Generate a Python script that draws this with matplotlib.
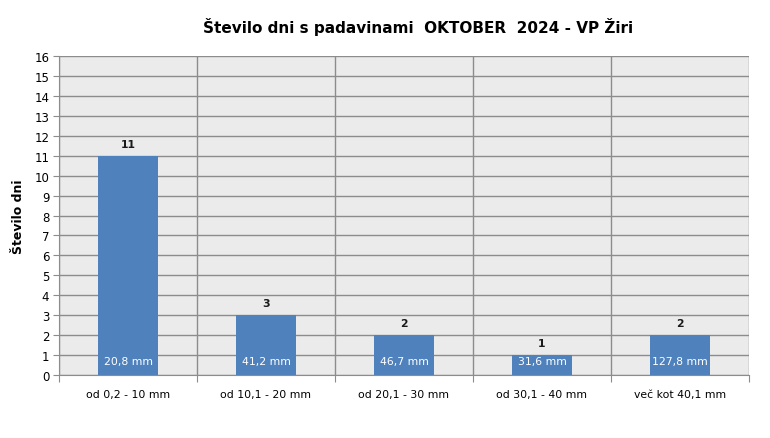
import matplotlib
matplotlib.use("Agg")
import matplotlib.pyplot as plt
import numpy as np

categories = ["od 0,2 - 10 mm", "od 10,1 - 20 mm", "od 20,1 - 30 mm", "od 30,1 - 40 mm", "več kot 40,1 mm"]
days = [11, 3, 2, 1, 2]
amounts = ["20,8 mm", "41,2 mm", "46,7 mm", "31,6 mm", "127,8 mm"]
yticks = list(range(0, 17))

plt.rcParams['font.family'] = ['DejaVu Sans']

fig = plt.figure(figsize=(7.7, 4.39), dpi=100)
ax = fig.add_axes([59/770, 1-376/439, 690/770, (376-57)/439])
ax.set_facecolor("#EBEBEB")

x = np.arange(len(categories))
ax.bar(x, days, width=0.43, color="#4F81BD", zorder=3)

ax.set_xlim(-0.5, len(categories)-0.5)
ax.set_ylim(0, 16)
ax.set_yticks(yticks)
ax.set_yticklabels([str(t) for t in yticks], fontsize=8.5)
ax.yaxis.grid(True, color="#8C8C8C", linewidth=1, zorder=1)
# category boundaries
ax.set_xticks(np.arange(-0.5, len(categories), 1.0))
ax.set_xticklabels([])
ax.set_xticks(x, minor=True)
ax.set_xticklabels(categories, minor=True, fontsize=7.8)
ax.tick_params(axis='x', which='minor', length=0, pad=10)
ax.tick_params(axis='x', which='major', length=5, color="#8C8C8C", direction='out')
ax.tick_params(axis='y', length=4, color="#8C8C8C", direction='out', pad=3)
ax.xaxis.grid(True, which='major', color="#8C8C8C", linewidth=1, zorder=1)

for s in ["top", "right"]:
    ax.spines[s].set_visible(False)
for s in ["left", "bottom"]:
    ax.spines[s].set_color("#8C8C8C")
    ax.spines[s].set_zorder(4)

for xi, d, a in zip(x, days, amounts):
    ax.text(xi, d + 0.35, str(d), ha='center', va='bottom', fontsize=7.8, fontweight='bold', color="#1a1a1a", zorder=5)
    ax.text(xi, 0.7, a, ha='center', va='center', fontsize=7.8, color="white", zorder=5)

ax.set_ylabel("Število dni", fontsize=9, fontweight='bold')
ax.yaxis.set_label_coords(-34/690, 0.5)
fig.text(418/770, 1-27/439, "Število dni s padavinami  OKTOBER  2024 - VP Žiri",
         ha='center', va='center', fontsize=11, fontweight='bold')

fig.savefig("out.png", dpi=100)
